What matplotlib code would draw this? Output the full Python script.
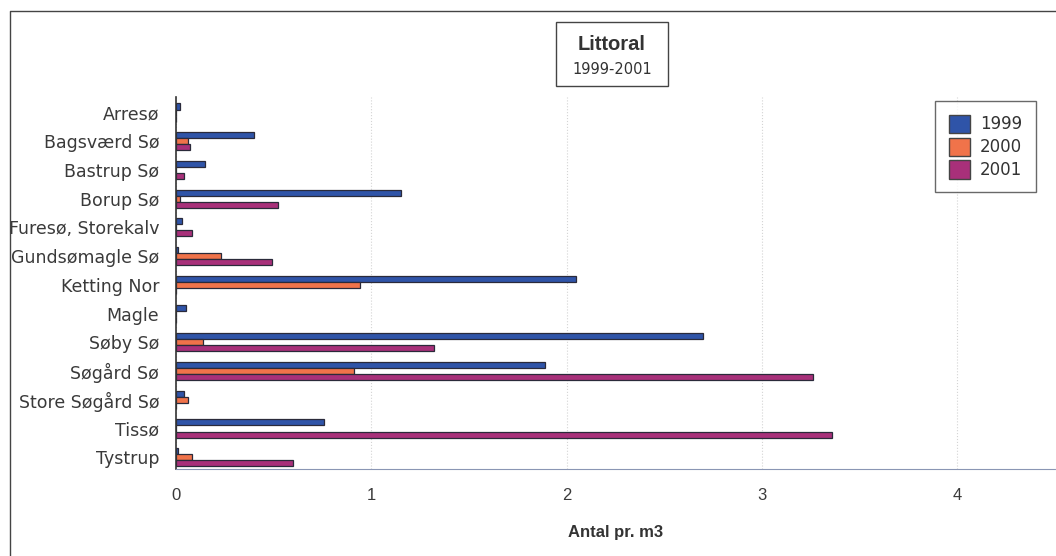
import matplotlib.pyplot as plt
import matplotlib.patches as mpatches
import numpy as np

lakes = ['Arresø', 'Bagsværd Sø', 'Bastrup Sø', 'Borup Sø', 'Furesø, Storekalv',
         'Gundsømagle Sø', 'Ketting Nor', 'Magle', 'Søby Sø', 'Søgård Sø',
         'Store Søgård Sø', 'Tissø', 'Tystrup']
years = ['1999', '2000', '2001']
v1999 = [0.02, 0.40, 0.15, 1.15, 0.03, 0.01, 2.05, 0.05, 2.70, 1.89, 0.04, 0.76, 0.01]
v2000 = [0.0, 0.06, 0.0, 0.02, 0.0, 0.23, 0.94, 0.0, 0.14, 0.91, 0.06, 0.0, 0.08]
v2001 = [0.0, 0.07, 0.04, 0.52, 0.08, 0.49, 0.0, 0.0, 1.32, 3.26, 0.0, 3.36, 0.60]
xticks = [0, 1, 2, 3, 4]

colors = ['#2f54a8', '#f0734a', '#a8307a']

fig = plt.figure(figsize=(10.56, 5.56), dpi=100)
ax = fig.add_axes([0.1667, 0.157, 0.832, 0.669])

y = np.arange(len(lakes))
h = 0.21
for k, vals in enumerate([v1999, v2000, v2001]):
    ax.barh(y + (k - 1) * h, vals, height=h, color=colors[k],
            edgecolor='#2a2a3a', linewidth=0.9, label=years[k])

ax.set_xlim(0, 4.5)
ax.set_ylim(12.4, -0.55)
ax.set_yticks(y)
ax.set_yticklabels(lakes, fontsize=12.5, color='#3a3a3a')
ax.set_xticks(xticks)
ax.set_xticklabels([str(t) for t in xticks], fontsize=12, color='#3a3a3a',
                   family='Liberation Sans')
ax.tick_params(length=0, pad=12)
ax.tick_params(axis='x', pad=14)
ax.xaxis.grid(True, linestyle=':', color='#d4d4d4', linewidth=0.8)
ax.set_axisbelow(True)
for s in ['top', 'right']:
    ax.spines[s].set_visible(False)
ax.spines['left'].set_color('#333333')
ax.spines['left'].set_linewidth(1.2)
ax.spines['bottom'].set_color('#8a96b4')
ax.spines['bottom'].set_linestyle((0, (2, 1)))
ax.set_xlabel('Antal pr. m3', fontsize=12, fontweight='bold', color='#333333',
              family='Liberation Sans', labelpad=16)

handles = [mpatches.Patch(facecolor=colors[k], edgecolor='#444444', label=years[k])
           for k in range(3)]
leg = ax.legend(handles=handles, loc='upper right', bbox_to_anchor=(0.988, 1.01),
                frameon=True, fancybox=False, edgecolor='#444444', fontsize=12,
                handlelength=1.3, handleheight=1.3, handletextpad=0.6,
                labelspacing=0.25, borderpad=0.8)
leg.get_frame().set_linewidth(1)
for t in leg.get_texts():
    t.set_color('#333333')

# title box
fig.patches.append(mpatches.Rectangle((556 / 1056, 1 - 86 / 556), 112 / 1056, 64 / 556,
                                      transform=fig.transFigure, fill=False,
                                      edgecolor='#444444', linewidth=1))
fig.text(612 / 1056, 1 - 45 / 556, 'Littoral', ha='center', va='center',
         fontsize=14.5, fontweight='bold', color='#333333', family='Liberation Sans')
fig.text(612 / 1056, 1 - 70 / 556, '1999-2001', ha='center', va='center',
         fontsize=10.5, color='#333333')

# outer frame (left and top edges)
fig.lines.append(plt.Line2D([10 / 1056, 10 / 1056, 1.0], [0.0, 1 - 11 / 556, 1 - 11 / 556],
                            transform=fig.transFigure, color='#444444', linewidth=1))

fig.savefig('out.png', dpi=100)
